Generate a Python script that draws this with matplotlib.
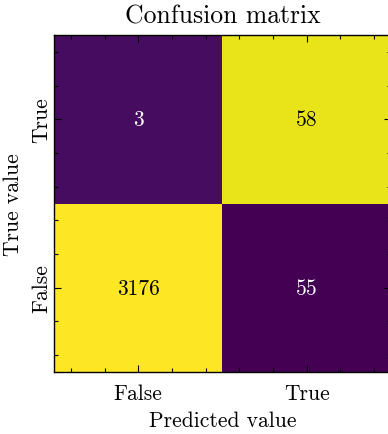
import numpy as np
import matplotlib
matplotlib.use("Agg")
import matplotlib.pyplot as plt
from matplotlib.ticker import AutoMinorLocator

# Date: matricea de confuzie (randuri = valoarea reala, coloane = valoarea prezisa)
labels = ["False", "True"]
row_false = [3176, 55]
row_true = [3, 58]
cm = np.array([row_false, row_true])

# normalizare pe randuri pentru culori
cm_norm = cm / cm.sum(axis=1, keepdims=True)

plt.rcParams['font.family'] = 'cmr10'
plt.rcParams['mathtext.fontset'] = 'cm'
plt.rcParams['axes.formatter.use_mathtext'] = True

fig = plt.figure(figsize=(3.88, 4.35), dpi=100)
ax = fig.add_axes([54 / 388, 1 - 373 / 435, 337 / 388, 337 / 435])

ax.imshow(cm_norm, cmap='viridis', origin='lower', aspect='auto')

for i in range(cm.shape[0]):
    for j in range(cm.shape[1]):
        col = 'black' if cm_norm[i, j] > 0.5 else 'white'
        ax.text(j, i, str(cm[i, j]), ha='center', va='center', color=col, fontsize=15.5)

ax.set_xticks([0, 1])
ax.set_xticklabels(labels, fontsize=15.5)
ax.set_yticks([0, 1])
ax.set_yticklabels(labels, fontsize=15.5, rotation=90, va='center')
ax.xaxis.set_minor_locator(AutoMinorLocator(5))
ax.yaxis.set_minor_locator(AutoMinorLocator(5))
ax.tick_params(which='both', direction='in', top=True, right=True, width=0.8)
ax.tick_params(which='major', length=5)
ax.tick_params(which='minor', length=2.8)
ax.tick_params(axis='x', pad=8)
ax.tick_params(axis='y', pad=2)
for s in ax.spines.values():
    s.set_linewidth(1.0)

ax.set_xlabel('Predicted value', fontsize=15.5, labelpad=6)
ax.set_ylabel('True value', fontsize=15.5, labelpad=6)
ax.set_title('Confusion matrix', fontsize=18.5, pad=9)

fig.savefig('out.png', dpi=100)
